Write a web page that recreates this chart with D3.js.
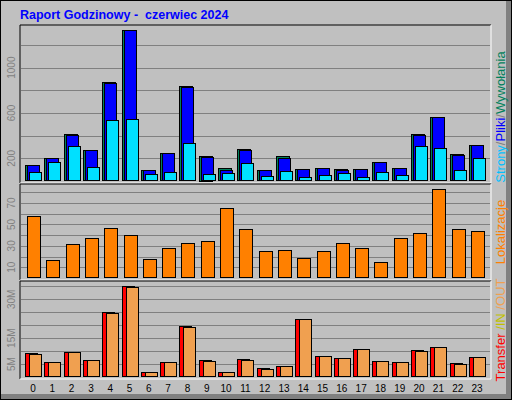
<!DOCTYPE html><html><head><meta charset="utf-8">
<script src="https://cdn.jsdelivr.net/npm/d3@7"></script>
<style>body{margin:0;background:#fff}</style></head><body>
<script>
const hours = d3.range(24);
const hits  = [137,207,417,277,875,1336,94,251,837,225,111,286,96,219,102,111,102,102,172,111,417,566,242,321];
const files = [137,207,408,277,863,1336,94,251,828,216,94,277,96,207,102,111,94,102,164,111,408,566,233,321];
const pages = [76,164,312,120,540,551,61,76,338,61,70,155,44,85,35,52,70,35,79,52,312,295,94,207];
const visits= [57.7,16.7,31.3,36.9,47.1,40.6,17.7,27.6,32.3,35,65.8,46.2,25.1,26,18.6,25.1,32.6,27.9,14.9,37.2,41.9,82.8,45.6,43.7];
const kbytes= [9.27,5.8,9.65,6.6,25.1,35.1,1.9,5.8,19.7,6.6,1.9,6.9,3.5,4.2,22.4,8.1,7.3,10.8,6.2,5.8,10.4,11.6,5.4,7.7];
const kout  = [8.9,5.8,9.65,6.6,24.7,34.7,1.9,5.8,19.3,6.2,1.9,6.6,3.1,4.2,22.4,8.1,7.3,10.8,6.2,5.8,10.0,11.6,5.0,7.7];
const topTicks=[200,600,1000], midTicks=[10,30,50,70], botTicks=[5,15,30];

const W=512,H=400;
const svg=d3.select("body").append("svg").attr("width",W).attr("height",H).style("font-family","Liberation Sans, Arial, sans-serif");
svg.append("rect").attr("x",0).attr("y",0).attr("width",W).attr("height",H).attr("fill","#000");
svg.append("rect").attr("x",1).attr("y",1).attr("width",W-2).attr("height",H-2).attr("fill","#808080");
svg.append("rect").attr("x",1).attr("y",1).attr("width",W-7).attr("height",H-7).attr("fill","#c0c0c0");
svg.append("text").attr("x",20).attr("y",19).attr("fill","#0000ff").attr("font-weight","bold").attr("font-size",12.5).style("white-space","pre").text("Raport Godzinowy -  czerwiec 2024");

const x=d3.scaleLinear().domain([0,23]).range([25,469]);
const PL=20,PR=491;
function panel(y0,y1){
  svg.append("line").attr("x1",PL).attr("x2",PR).attr("y1",y0).attr("y2",y0).attr("stroke","#000");
  svg.append("line").attr("x1",PL).attr("x2",PL).attr("y1",y0).attr("y2",y1).attr("stroke","#000");
  svg.append("line").attr("x1",PL).attr("x2",PR).attr("y1",y1).attr("y2",y1).attr("stroke","#fff");
  svg.append("line").attr("x1",PR).attr("x2",PR).attr("y1",y0).attr("y2",y1).attr("stroke","#fff");
}
function grid(y,vals){vals.forEach(v=>svg.append("line").attr("x1",PL+1).attr("x2",PR-1).attr("y1",Math.round(y(v))+.5).attr("y2",Math.round(y(v))+.5).attr("stroke","#808080"));}
function ylab(y,vals,fmt){vals.forEach(v=>svg.append("text").attr("transform",`translate(15,${y(v)}) rotate(-90)`).attr("text-anchor","middle").attr("fill","#808080").attr("font-size",10).text(fmt(v)));}
function bars(y,data,dx,w,fill){
  svg.append("g").selectAll("rect").data(data).join("rect")
   .attr("x",(d,i)=>Math.round(x(i))+dx+.5).attr("y",d=>Math.round(y(d))+.5)
   .attr("width",w).attr("height",d=>Math.max(1,Math.round(y(0)-y(d))-1))
   .attr("fill",fill).attr("stroke","#000");
}
const yT=d3.scaleLinear().domain([0,1200]).range([181,45]);
panel(25,183); grid(yT,[200,400,600,800,1000,1200]); ylab(yT,topTicks,d=>d);
bars(yT,hits,0,13,"#00805c"); bars(yT,files,2,12,"#0000ff"); bars(yT,pages,4,12,"#00e0ff");
const yM=d3.scaleLinear().domain([0,80]).range([278,192.3]);
panel(184,280); grid(yM,[10,20,30,40,50,60,70,80]); ylab(yM,midTicks,d=>d);
bars(yM,visits,2,13,"#ff8000");
const yB=d3.scaleLinear().domain([0,35]).range([377,286.4]);
panel(281,379); grid(yB,[5,10,15,20,25,30,35]); ylab(yB,botTicks,d=>d+"M");
bars(yB,kbytes,0,12,"#ff0000"); bars(yB,kout,4,12,"#f0a050");
svg.append("g").selectAll("text").data(hours).join("text").attr("x",d=>x(d)+8).attr("y",392)
 .attr("text-anchor","middle").attr("font-size",10).attr("fill","#000").text(d=>d);
function rlab(cy,parts){
  const t=svg.append("text").attr("transform",`translate(505,${cy}) rotate(-90)`).attr("text-anchor","middle").attr("font-size",13);
  parts.forEach(([s,c])=>t.append("tspan").attr("fill",c).text(s));
}
rlab(117,[["Strony","#00c0ff"],["/","#808080"],["Pliki","#0000ff"],["/","#808080"],["Wywołania","#00805c"]]);
rlab(232,[["Lokalizacje","#ff8000"]]);
rlab(330,[["Transfer","#ff0000"],[" /IN","#c0c000"],[" /OUT","#f0a050"]]);
</script></body></html>
